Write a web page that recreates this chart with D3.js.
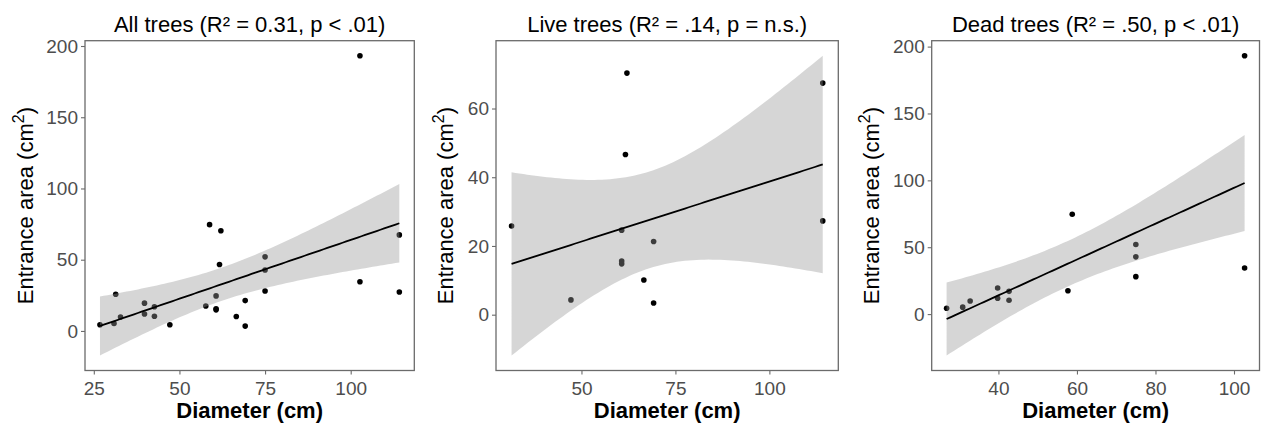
<!DOCTYPE html>
<html>
<head>
<meta charset="utf-8">
<script src="https://cdn.jsdelivr.net/npm/d3@7"></script>
<style>
  body { margin: 0; background: #fff; }
  text { font-family: "Liberation Sans", Arial, sans-serif; }
</style>
</head>
<body>
<svg id="chart"></svg>
<script>
// Live trees: diameter (cm) and entrance area (cm^2)
const liveDiameter = [31.4, 47.2, 60.7, 60.7, 60.7, 61.7, 62.1, 66.6, 69.2, 69.2, 114.2, 114.2];
const liveArea     = [25.8, 4.3, 24.6, 15.6, 14.8, 46.6, 70.3, 10.1, 21.3, 3.4, 67.4, 27.3];

// Dead trees
const deadDiameter = [26.8, 30.9, 32.8, 39.8, 39.8, 42.7, 42.7, 57.7, 58.8, 75, 75, 75, 102.7, 102.7];
const deadArea     = [4.4, 5.2, 9.8, 19.5, 11.9, 17.0, 10.3, 17.5, 74.6, 52.0, 42.8, 28.0, 193.2, 34.5];

// All trees = both groups
const allDiameter = liveDiameter.concat(deadDiameter);
const allArea = liveArea.concat(deadArea);

const panelTitles = ["All trees (R\u00b2 = 0.31, p < .01)", "Live trees (R\u00b2 = .14, p = n.s.)", "Dead trees (R\u00b2 = .50, p < .01)"];
const xTicks = [[25, 50, 75, 100], [50, 75, 100], [40, 60, 80, 100]];
const yTicks = [[0, 50, 100, 150, 200], [0, 20, 40, 60], [0, 50, 100, 150, 200]];

// t(0.975, df) for the 95% band of geom_smooth(method = "lm")
const tCrit = { 10: 2.2281, 12: 2.1788, 24: 2.0639 };
// the printed bands for "all" and "dead" are narrower than a plain lm band
// on the points we can read, so shrink them to what the figure shows
const bandScale = [0.86, 1.0, 0.79];

const width = 1261, height = 423;
const svg = d3.select("#chart").attr("width", width).attr("height", height);

const panels = [
    { xs: allDiameter, ys: allArea, left: 85, right: 414.3, yTitleX: 33 },
    { xs: liveDiameter, ys: liveArea, left: 496, right: 838.3, yTitleX: 453 },
    { xs: deadDiameter, ys: deadArea, left: 931.7, right: 1259.5, yTitleX: 879 }
];
const plotTop = 40.7, plotBottom = 370.5;

// ordinary least squares + confidence band, like lm() in R
function fitLine(xs, ys, scale) {
    const n = xs.length;
    const mx = d3.mean(xs), my = d3.mean(ys);
    let sxx = 0, sxy = 0;
    xs.forEach((x, i) => { sxx += (x - mx) ** 2; sxy += (x - mx) * (ys[i] - my); });
    const b = sxy / sxx, a = my - b * mx;
    let sse = 0;
    xs.forEach((x, i) => { sse += (ys[i] - a - b * x) ** 2; });
    const s = Math.sqrt(sse / (n - 2));
    const t = tCrit[n - 2];
    return x => {
        const yhat = a + b * x;
        const half = scale * t * s * Math.sqrt(1 / n + (x - mx) ** 2 / sxx);
        return { x: x, y: yhat, lo: yhat - half, hi: yhat + half };
    };
}

panels.forEach((p, k) => {
    const g = svg.append("g");
    const predict = fitLine(p.xs, p.ys, bandScale[k]);
    const [x0, x1] = d3.extent(p.xs);
    const grid = d3.range(80).map(i => predict(x0 + (x1 - x0) * i / 79));

    // ggplot style 5% expansion
    const xPad = (x1 - x0) * 0.05;
    const yMin = Math.min(d3.min(p.ys), d3.min(grid, d => d.lo));
    const yMax = Math.max(d3.max(p.ys), d3.max(grid, d => d.hi));
    const yPad = (yMax - yMin) * 0.05;

    const x = d3.scaleLinear().domain([x0 - xPad, x1 + xPad]).range([p.left, p.right]);
    const y = d3.scaleLinear().domain([yMin - yPad, yMax + yPad]).range([plotBottom, plotTop]);

    // points first, so the ribbon greys the ones under it
    g.selectAll(".pt")
        .data(p.xs)
        .enter()
        .append("circle")
        .attr("cx", d => x(d))
        .attr("cy", (d, i) => y(p.ys[i]))
        .attr("r", 2.8)
        .attr("fill", "#000");

    g.append("path")
        .datum(grid)
        .attr("fill", "#999999")
        .attr("fill-opacity", 0.4)
        .attr("d", d3.area().x(d => x(d.x)).y0(d => y(d.lo)).y1(d => y(d.hi)));

    g.append("path")
        .datum(grid)
        .attr("fill", "none")
        .attr("stroke", "#000")
        .attr("stroke-width", 1.8)
        .attr("d", d3.line().x(d => x(d.x)).y(d => y(d.y)));

    // axes
    const xAxis = g.append("g")
        .attr("transform", `translate(0,${plotBottom})`)
        .call(d3.axisBottom(x).tickValues(xTicks[k]).tickSize(4).tickPadding(4));
    const yAxis = g.append("g")
        .attr("transform", `translate(${p.left},0)`)
        .call(d3.axisLeft(y).tickValues(yTicks[k]).tickSize(4).tickPadding(3));

    [xAxis, yAxis].forEach(ax => {
        ax.select(".domain").remove();
        ax.selectAll("line").attr("stroke", "#6b6b6b").attr("stroke-width", 1.1);
        ax.selectAll("text")
            .attr("fill", "#4d4d4d")
            .style("font-size", "19px")
            .style("font-family", "'Liberation Sans', Arial, sans-serif");
    });
    xAxis.selectAll("text").attr("y", 11).attr("dy", "0.71em");

    // panel border
    g.append("rect")
        .attr("x", p.left)
        .attr("y", plotTop)
        .attr("width", p.right - p.left)
        .attr("height", plotBottom - plotTop)
        .attr("fill", "none")
        .attr("stroke", "#6b6b6b")
        .attr("stroke-width", 1.3);

    // title
    g.append("text")
        .attr("x", (p.left + p.right) / 2)
        .attr("y", 31.5)
        .attr("text-anchor", "middle")
        .style("font-size", "22px")
        .attr("fill", "#000")
        .text(panelTitles[k]);

    // x axis title
    g.append("text")
        .attr("x", (p.left + p.right) / 2)
        .attr("y", 417.5)
        .attr("text-anchor", "middle")
        .style("font-size", "22px")
        .style("font-weight", "bold")
        .attr("fill", "#000")
        .text("Diameter (cm)");

    // y axis title with superscript
    const yt = g.append("text")
        .attr("transform", `translate(${p.yTitleX},${(plotTop + plotBottom) / 2}) rotate(-90)`)
        .attr("text-anchor", "middle")
        .style("font-size", "22px")
        .attr("fill", "#000");
    yt.append("tspan").text("Entrance area (cm");
    yt.append("tspan").attr("dy", -9).style("font-size", "16px").text("2");
    yt.append("tspan").attr("dy", 9).text(")");
});
</script>
</body>
</html>
